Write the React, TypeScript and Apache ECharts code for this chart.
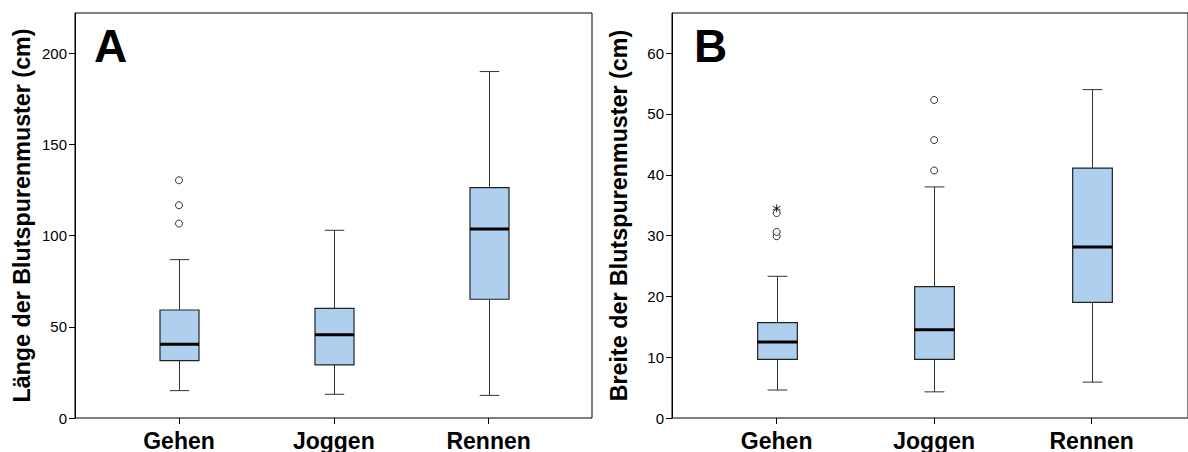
import React, { useEffect, useRef } from "react";
import * as echarts from "echarts";

const categories = ["Gehen", "Joggen", "Rennen"];

// [min, Q1, median, Q3, max]
const laengeBox = [
  [15.0, 31.4, 40.4, 59.2, 86.8],
  [13.0, 29.1, 45.7, 60.1, 102.9],
  [12.4, 65.1, 103.6, 126.3, 189.9],
];
const laengeOutliers = [
  [0, 106.6],
  [0, 116.6],
  [0, 130.3],
];
const laengeTicks = [0, 50, 100, 150, 200];

const breiteBox = [
  [4.6, 9.65, 12.5, 15.7, 23.3],
  [4.3, 9.65, 14.5, 21.6, 38.0],
  [5.9, 19.0, 28.1, 41.1, 54.0],
];
const breiteOutliers = [
  [0, 29.9],
  [0, 30.6],
  [0, 33.7],
  [1, 40.7],
  [1, 45.7],
  [1, 52.3],
];
const breiteExtremes = [[0, 34.5]];
const breiteTicks = [0, 10, 20, 30, 40, 50, 60];

const FONT = "'Liberation Sans', Arial, Helvetica, sans-serif";
const BOX_FILL = "#aecfee";
const STAR = "path://M0,-5L0,5M-4.33,-2.5L4.33,2.5M-4.33,2.5L4.33,-2.5";

function renderBox(params: any, api: any) {
  const x = api.value(0);
  const lo = api.coord([x, api.value(1)]);
  const q1 = api.coord([x, api.value(2)]);
  const med = api.coord([x, api.value(3)]);
  const q3 = api.coord([x, api.value(4)]);
  const hi = api.coord([x, api.value(5)]);
  const band = api.size([1, 0])[0];
  const bw = band * 0.252;
  const cw = bw / 2;
  const cx = Math.round(lo[0]) + 0.5;
  const ws = { stroke: "#333", lineWidth: 1 };
  return {
    type: "group",
    children: [
      { type: "line", shape: { x1: cx, y1: hi[1], x2: cx, y2: q3[1] }, style: ws },
      { type: "line", shape: { x1: cx, y1: q1[1], x2: cx, y2: lo[1] }, style: ws },
      { type: "line", shape: { x1: cx - cw / 2, y1: hi[1], x2: cx + cw / 2, y2: hi[1] }, style: ws },
      { type: "line", shape: { x1: cx - cw / 2, y1: lo[1], x2: cx + cw / 2, y2: lo[1] }, style: ws },
      {
        type: "rect",
        shape: { x: cx - bw / 2, y: q3[1], width: bw, height: q1[1] - q3[1] },
        style: { fill: BOX_FILL, stroke: "#222", lineWidth: 1.2 },
      },
      {
        type: "line",
        shape: { x1: cx - bw / 2, y1: med[1], x2: cx + bw / 2, y2: med[1] },
        style: { stroke: "#000", lineWidth: 3 },
      },
    ],
  };
}

function panel(
  idx: number,
  frame: { left: number; width: number },
  data: { left: number; width: number },
  max: number,
  ticks: number[],
  name: string
) {
  const top = 13;
  const height = 405;
  const grids = [
    { left: frame.left, top, width: frame.width, height, show: true, borderColor: "#000", borderWidth: 1, backgroundColor: "transparent" },
    { left: data.left, top, width: data.width, height, show: false },
  ];
  const xAxes = [
    { gridIndex: idx * 2, type: "value", show: false, min: 0, max: 1 },
    {
      gridIndex: idx * 2 + 1,
      type: "category",
      data: categories,
      axisLine: { show: false },
      axisTick: { show: true, alignWithLabel: true, length: 6, lineStyle: { color: "#000", width: 1 } },
      axisLabel: { margin: 11, color: "#000", fontSize: 23, fontWeight: "bold", fontFamily: FONT },
      splitLine: { show: false },
    },
  ];
  const yAxes = [
    {
      gridIndex: idx * 2,
      type: "value",
      min: 0,
      max,
      axisLine: { show: true, lineStyle: { color: "#000", width: 1 } },
      axisTick: { show: true, length: 6, customValues: ticks, lineStyle: { color: "#000" } },
      axisLabel: { customValues: ticks, margin: 8, color: "#000", fontSize: 15, fontFamily: FONT },
      splitLine: { show: false },
      name,
      nameLocation: "middle",
      nameGap: 42,
      nameTextStyle: { color: "#000", fontSize: 23.3, fontWeight: "bold", fontFamily: FONT },
    },
    { gridIndex: idx * 2 + 1, type: "value", min: 0, max, show: false },
  ];
  return { grids, xAxes, yAxes };
}

export default function App() {
  const ref = useRef<HTMLDivElement>(null);
  useEffect(() => {
    if (!ref.current) return;
    const chart = echarts.init(ref.current, undefined, { renderer: "svg" });
    const a = panel(0, { left: 75, width: 517 }, { left: 101.6, width: 464.4 }, 222, laengeTicks, "Länge der Blutspurenmuster (cm)");
    const b = panel(1, { left: 672, width: 523 }, { left: 697.9, width: 472.5 }, 66.6, breiteTicks, "Breite der Blutspurenmuster (cm)");
    const circle = {
      symbol: "circle",
      symbolSize: 7,
      itemStyle: { color: "#fff", borderColor: "#000", borderWidth: 1 },
    };
    chart.setOption({
      animation: false,
      backgroundColor: "#fff",
      title: [
        { text: "A", left: 94, top: 23, padding: 0, textStyle: { fontSize: 46, fontWeight: "bold", color: "#000", fontFamily: FONT } },
        { text: "B", left: 694, top: 23, padding: 0, textStyle: { fontSize: 46, fontWeight: "bold", color: "#000", fontFamily: FONT } },
      ],
      grid: [...a.grids, ...b.grids],
      xAxis: [...a.xAxes, ...b.xAxes],
      yAxis: [...a.yAxes, ...b.yAxes],
      series: [
        {
          type: "custom",
          xAxisIndex: 1,
          yAxisIndex: 1,
          renderItem: renderBox,
          encode: { x: 0, y: [1, 2, 3, 4, 5] },
          data: laengeBox.map((d, i) => [i, ...d]),
        },
        { type: "scatter", xAxisIndex: 1, yAxisIndex: 1, data: laengeOutliers, ...circle },
        {
          type: "custom",
          xAxisIndex: 3,
          yAxisIndex: 3,
          renderItem: renderBox,
          encode: { x: 0, y: [1, 2, 3, 4, 5] },
          data: breiteBox.map((d, i) => [i, ...d]),
        },
        { type: "scatter", xAxisIndex: 3, yAxisIndex: 3, data: breiteOutliers, ...circle },
        {
          type: "scatter",
          xAxisIndex: 3,
          yAxisIndex: 3,
          data: breiteExtremes,
          symbol: STAR,
          symbolSize: 8,
          itemStyle: { color: "none", borderColor: "#000", borderWidth: 1 },
        },
      ],
    });
    return () => chart.dispose();
  }, []);
  return <div ref={ref} style={{ position: "fixed", left: 0, top: 0, width: 1188, height: 452 }} />;
}
